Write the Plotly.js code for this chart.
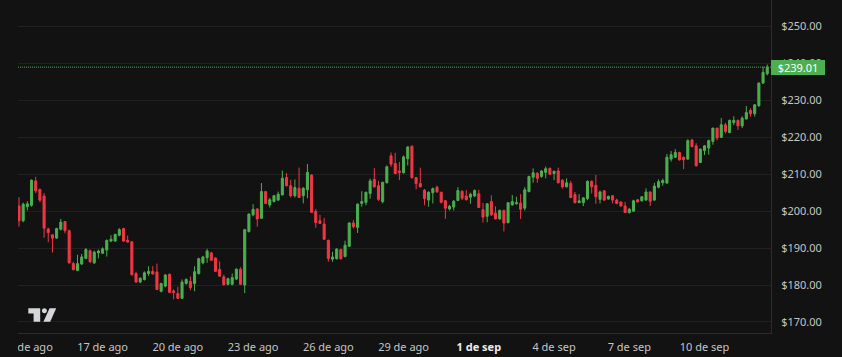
<!DOCTYPE html>
<html>
<head>
<meta charset="utf-8">
<script src="https://cdn.plot.ly/plotly-3.0.1.min.js"></script>
<style>
  html, body { margin: 0; padding: 0; background: #121212; }
  #chart { width: 842px; height: 357px; }
</style>
</head>
<body>
<div id="chart"></div>
<script>
// ---- data (4h candles, SOL/USD-like) ----
const startTime = Date.UTC(2025, 7, 13, 16, 0, 0);
const stepHours = 4;

const openP = [
201.4,197.4,201.2,201.6,208.2,205.9,204.1,195.2,193.6,192.7,
195.1,197.2,194.7,185.8,183.9,185.7,187.2,189.3,186.0,188.7,
188.6,189.5,191.9,191.9,193.5,195.3,192.1,191.7,183.1,180.8,
181.5,183.1,183.7,183.5,178.3,179.7,182.9,178.4,177.7,176.4,
180.4,181.0,180.4,183.1,186.0,187.4,188.7,187.3,184.2,182.2,
180.2,180.2,181.6,184.3,180.0,194.5,199.0,200.6,198.1,205.3,
201.7,202.6,203.0,204.4,209.1,206.9,204.2,206.2,204.2,205.8,
209.8,199.9,197.4,196.5,192.1,187.0,187.1,189.6,187.7,190.5,
196.8,195.6,202.1,202.4,204.8,208.6,206.9,202.6,207.7,215.0,
212.9,210.9,210.4,214.2,217.6,209.1,207.5,205.7,203.0,205.0,
206.5,205.1,202.8,200.6,201.1,202.9,205.4,204.1,203.8,204.1,
204.7,200.4,198.6,202.6,199.5,197.9,200.2,196.9,201.7,202.0,
202.2,200.8,205.3,209.2,210.3,209.4,210.5,211.6,210.2,210.9,
208.4,206.6,207.5,204.5,202.3,202.3,203.4,208.1,207.0,203.2,
205.5,203.3,204.2,203.0,202.5,201.4,199.6,200.0,203.1,202.8,
203.0,205.2,203.0,206.5,207.7,207.6,214.1,214.6,215.9,214.6,
214.1,219.3,217.7,213.2,216.4,217.1,218.9,222.5,220.0,223.4,
221.3,224.0,224.6,223.1,225.0,227.3,226.4,228.6,234.7,237.2
];
const highP = [
203.8,202.3,202.7,208.6,209.3,206.1,204.9,195.5,193.7,195.5,
197.9,197.3,195.0,186.3,188.2,188.4,190.0,189.6,189.3,189.6,
190.2,192.3,193.5,193.9,195.4,195.5,193.4,191.8,183.6,182.1,
183.7,185.1,185.1,185.8,180.6,183.0,183.1,178.8,179.5,181.5,
181.8,182.3,185.1,187.4,187.9,189.8,189.0,187.5,186.4,182.8,
182.0,183.1,184.5,184.8,195.2,199.4,201.9,200.8,207.6,205.5,
203.6,204.4,205.3,211.0,210.3,208.5,208.6,211.8,206.5,212.8,
210.0,200.6,199.0,198.2,192.3,189.0,190.0,189.8,192.0,197.0,
197.6,202.1,205.4,205.3,208.8,211.7,208.2,208.0,212.4,215.9,
215.8,213.3,215.1,217.6,217.8,209.3,211.8,206.0,205.4,206.4,
206.9,205.3,203.0,201.7,203.0,206.5,205.6,205.7,205.0,205.9,
205.8,202.2,202.2,204.3,201.3,200.4,200.4,202.5,204.4,203.9,
204.6,206.5,209.6,211.6,210.5,211.1,212.1,211.8,211.0,211.8,
208.6,208.9,208.2,205.2,204.6,203.8,208.3,208.3,209.8,205.6,
205.7,204.2,204.3,203.4,202.6,202.5,200.9,203.1,203.3,204.1,
206.2,205.4,207.7,208.6,208.8,215.5,216.3,216.8,216.1,214.8,
219.5,219.5,218.4,217.0,217.9,219.4,222.6,222.6,225.2,223.9,
224.8,225.7,224.8,225.7,228.5,227.9,229.0,234.9,239.2,239.7
];
const lowP = [
195.8,197.0,200.2,201.2,204.9,202.5,192.8,191.6,188.8,192.5,
194.8,194.0,185.8,183.9,183.8,185.4,187.0,186.0,185.7,187.2,
188.4,187.7,191.6,191.7,193.2,191.7,191.4,182.5,180.6,180.5,
181.2,182.4,182.8,178.6,178.0,179.4,177.8,176.1,176.2,176.2,
180.1,178.6,178.3,182.8,185.6,186.0,186.5,183.5,182.2,179.8,
179.9,179.9,181.4,180.0,177.8,194.2,198.6,195.8,197.9,201.9,
201.0,202.4,202.8,204.3,206.7,203.7,203.7,203.6,202.1,203.5,
199.5,195.5,196.5,192.2,186.3,186.3,186.9,186.9,187.5,190.3,
195.3,194.1,201.2,201.6,203.4,206.4,202.8,202.1,207.5,212.0,
210.0,208.4,210.2,212.4,208.8,205.9,206.4,201.6,201.2,202.1,
205.0,202.1,197.9,200.2,200.2,202.7,203.0,202.9,202.0,203.8,
200.9,196.9,197.0,198.7,197.8,197.7,194.5,196.7,201.5,201.8,
197.9,200.2,205.1,207.7,207.7,209.1,208.9,209.9,208.4,207.5,
206.1,206.4,203.5,202.1,202.2,201.4,203.0,204.8,202.0,202.1,
202.8,203.1,202.1,201.9,201.3,199.5,199.4,199.9,202.4,202.6,
202.8,201.4,202.8,206.2,206.9,207.5,213.4,214.4,213.7,211.4,
213.9,217.3,212.1,213.0,215.2,215.3,218.0,219.2,219.8,221.0,
221.1,223.3,222.0,222.5,224.8,225.6,225.6,228.2,234.5,236.8
];
const closeP = [
197.4,201.9,202.0,208.4,205.5,203.0,195.4,194.2,192.7,195.3,
197.0,194.7,186.0,184.2,185.8,187.6,189.6,186.3,188.9,189.2,
189.8,192.1,192.4,193.7,195.0,191.9,191.7,182.8,180.8,181.8,
183.3,183.7,183.0,178.8,180.4,182.7,178.0,178.0,176.4,180.8,
181.5,179.3,183.6,187.1,187.6,189.2,186.7,183.7,182.4,180.1,
181.7,182.0,184.3,180.2,195.0,199.2,200.5,197.9,205.3,202.1,
203.1,204.2,204.6,208.9,206.9,204.2,206.4,203.7,206.2,210.5,
199.7,196.9,196.7,192.4,187.2,187.6,189.7,187.1,190.8,196.8,
195.8,201.9,202.6,205.1,208.2,206.6,203.2,207.8,212.0,212.7,
210.2,210.5,214.7,217.4,209.1,207.5,206.6,203.4,205.1,206.1,
205.2,202.4,200.8,201.3,202.7,205.6,203.5,203.1,204.6,205.6,
201.0,198.4,202.0,199.0,197.9,200.2,196.8,202.3,202.6,202.3,
200.5,205.8,209.4,210.4,208.9,210.9,211.5,210.0,210.8,207.7,
206.6,207.7,203.7,202.3,202.8,203.6,208.1,206.6,203.9,205.2,
203.0,204.0,203.0,202.1,201.4,199.6,200.5,202.8,202.5,203.9,
205.2,202.7,206.8,208.0,208.3,214.6,215.3,215.9,213.9,213.9,
219.1,217.5,212.3,216.8,217.7,219.1,222.5,219.8,223.4,221.6,
224.6,224.6,223.1,225.2,226.7,226.4,228.8,234.7,237.6,239.01
];

const tickDates  = ["2025-08-14","2025-08-17","2025-08-20","2025-08-23","2025-08-26","2025-08-29","2025-09-01","2025-09-04","2025-09-07","2025-09-10"];
const tickLabels = ["14 de ago","17 de ago","20 de ago","23 de ago","26 de ago","29 de ago","1 de sep","4 de sep","7 de sep","10 de sep"];
const boldLabel  = "1 de sep";
const priceTicks = [170,180,190,200,210,220,230,240,250];

// ---- styling ----
const BG = "#121212";
const GRID = "#212121";
const AXIS = "#2c2c2c";
const UP = "#4caf50";
const DOWN = "#f23645";
const TXT = "#c6c6c6";

const W = 842, H = 357;
const M = {l: 18, r: 71, t: 0, b: 24};
const PW = W - M.l - M.r, PH = H - M.t - M.b;
const HOUR = 3600e3;

const times = openP.map((_, i) => startTime + i * stepHours * HOUR);
const lastClose = closeP[closeP.length - 1];

function px(x, y) { return [(x - M.l) / PW, (PH + M.t - y) / PH]; }
function pathFrom(pts) {
  return "M" + pts.map(p => { const q = px(p[0], p[1]); return q[0].toFixed(5) + "," + q[1].toFixed(5); }).join("L") + "Z";
}
function circlePts(cx, cy, r, n) {
  const a = [];
  for (let k = 0; k < n; k++) { const t = 2 * Math.PI * k / n; a.push([cx + r * Math.cos(t), cy + r * Math.sin(t)]); }
  return a;
}

const LOGO = "#d4d6dc";
const shapes = [
  // last price dotted line
  {type: "line", xref: "paper", x0: 0, x1: 1, yref: "y", y0: lastClose, y1: lastClose,
   line: {color: UP, width: 1, dash: "1px,1px"}, layer: "below"},
  // clip of the first time label at the pane edge
  {type: "rect", xref: "paper", yref: "paper", x0: -M.l / PW - 0.01, x1: -0.0005, y0: -M.b / PH - 0.01, y1: -0.002,
   fillcolor: BG, line: {width: 0}, layer: "above"},
  // logo
  {type: "path", xref: "paper", yref: "paper", layer: "above", fillcolor: LOGO, line: {width: 0},
   path: pathFrom([[28.3,308.3],[40.2,308.3],[40.2,321.7],[33.6,321.7],[33.6,313.4],[28.3,313.4]])},
  {type: "path", xref: "paper", yref: "paper", layer: "above", fillcolor: LOGO, line: {width: 0},
   path: pathFrom(circlePts(44.4, 310.8, 2.5, 16))},
  {type: "path", xref: "paper", yref: "paper", layer: "above", fillcolor: LOGO, line: {width: 0},
   path: pathFrom([[49.6,308.3],[56.2,308.3],[50.2,321.7],[43.4,321.7]])}
];

const trace = {
  type: "candlestick",
  x: times, open: openP, high: highP, low: lowP, close: closeP,
  increasing: {line: {color: UP, width: 1}, fillcolor: UP},
  decreasing: {line: {color: DOWN, width: 1}, fillcolor: DOWN},
  whiskerwidth: 0,
  hoverinfo: "skip"
};

const layout = {
  width: W, height: H,
  margin: {l: M.l, r: M.r, t: M.t, b: M.b, pad: 0},
  paper_bgcolor: BG, plot_bgcolor: BG,
  font: {family: '"Noto Sans", "Open Sans", "DejaVu Sans", sans-serif', size: 11, color: TXT},
  showlegend: false,
  hovermode: false,
  xaxis: {
    type: "date",
    range: [startTime - 0.957 * HOUR, startTime + 719.6 * HOUR],
    rangeslider: {visible: false},
    showgrid: false, zeroline: false,
    showline: true, linecolor: AXIS, linewidth: 1,
    tickmode: "array",
    tickvals: tickDates.map(d => Date.parse(d + "T00:00:00Z")),
    ticktext: tickLabels.map(t => t === boldLabel ? '<b><span style="color:#ececec">' + t + '</span></b>' : t),
    ticks: "", ticklabelstandoff: 4,
    fixedrange: true
  },
  yaxis: {
    side: "right",
    range: [167.0, 257.2],
    tickmode: "array",
    tickvals: priceTicks,
    ticktext: priceTicks.map(v => "$" + v.toFixed(2)),
    showgrid: true, gridcolor: GRID, gridwidth: 1,
    showline: true, linecolor: AXIS, linewidth: 1,
    zeroline: false, ticks: "", ticklabelstandoff: 7,
    fixedrange: true
  },
  shapes: shapes,
  annotations: [{
    xref: "paper", x: 1, xanchor: "left", xshift: 0,
    yref: "y", y: lastClose, yanchor: "middle",
    text: "$" + lastClose.toFixed(2),
    showarrow: false,
    bgcolor: UP, bordercolor: UP, borderwidth: 0, borderpad: 2,
    width: 50, height: 11, align: "center",
    font: {color: "#ffffff", size: 11}
  }]
};

Plotly.newPlot("chart", [trace], layout, {staticPlot: true, displayModeBar: false});
</script>
</body>
</html>
